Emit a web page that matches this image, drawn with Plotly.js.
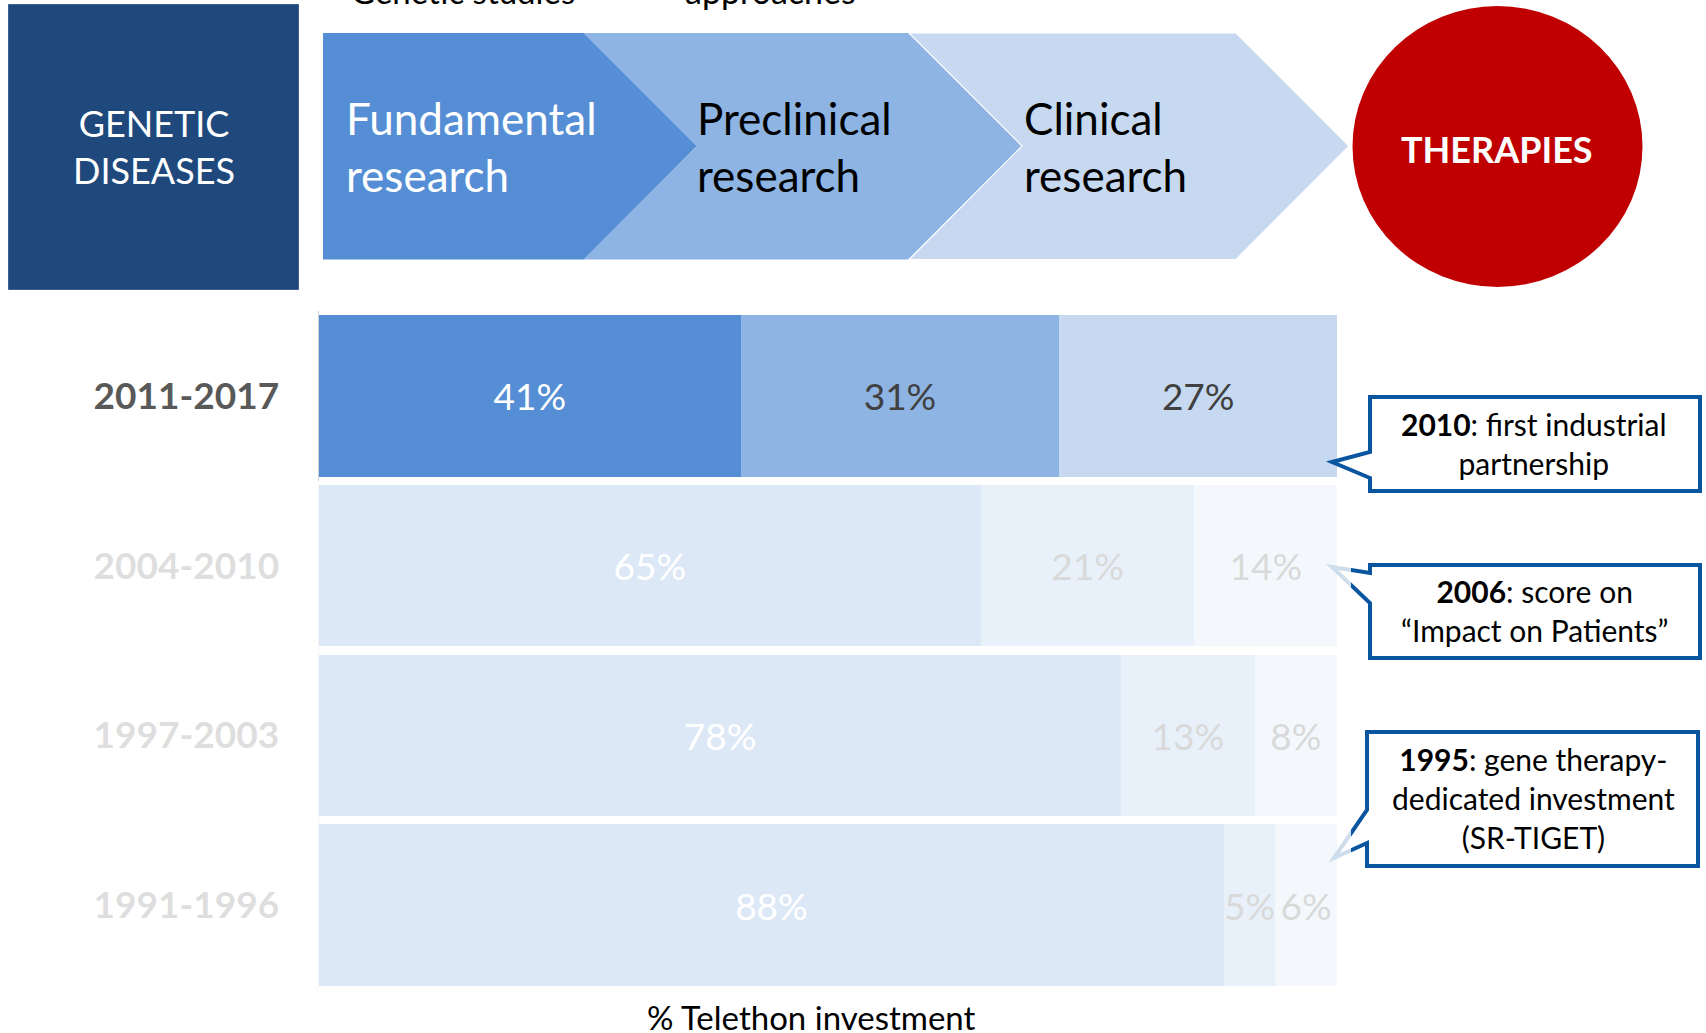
<!DOCTYPE html>
<html>
<head>
<meta charset="utf-8">
<script src="https://cdn.plot.ly/plotly-3.0.1.min.js"></script>
<style>
  html, body { margin: 0; padding: 0; background: #ffffff; }
  #chart { width: 1706px; height: 1033px; }
</style>
</head>
<body>
<div id="chart"></div>
<script>
// ---------- data ----------
const periods = ['2011-2017', '2004-2010', '1997-2003', '1991-1996'];
const fundamental = [41, 65, 78, 88];
const preclinical = [31, 21, 13, 5];
const clinical = [27, 14, 8, 6];
const stageNames = ['Fundamental research', 'Preclinical research', 'Clinical research'];
const stageColors = ['#558ED5', '#8EB4E3', '#C6D9F1'];
const labelColors = ['#FFFFFF', '#404040', '#404040'];
const xTitle = '% Telethon investment';
const calloutYears = ['2010', '2006', '1995'];
const calloutTexts = [
  ': first industrial<br>partnership',
  ': score on<br>\u201CImpact on Patients\u201D',
  ': gene therapy-<br>dedicated investment<br>(SR-TIGET)'
];
const headerTexts = ['Genetic studies', 'approaches'];

// ---------- layout helpers (pixel -> paper) ----------
const W = 1706, H = 1033;
const M = { l: 319, r: 369, t: 311, b: 43 };
const PW = W - M.l - M.r, PH = H - M.t - M.b;
const px = x => (x - M.l) / PW;
const py = y => (M.t + PH - y) / PH;
const pt = (x, y) => px(x).toFixed(5) + ',' + py(y).toFixed(5);
const path = pts => 'M ' + pts.map(p => pt(p[0], p[1])).join(' L ') + ' Z';

const FONT = 'Lato';

// ---------- traces ----------
const series = [fundamental, preclinical, clinical];
const traces = series.map((vals, i) => ({
  type: 'bar',
  orientation: 'h',
  y: periods,
  x: vals,
  name: stageNames[i],
  marker: { color: stageColors[i], line: { width: 0 } },
  text: vals.map(v => v + '%'),
  textposition: 'inside',
  insidetextanchor: 'middle',
  textangle: 0,
  constraintext: 'none',
  textfont: { family: FONT, size: 37, color: labelColors[i] },
  hoverinfo: 'skip'
}));

// ---------- decorations ----------
const calloutBorder = '#0A55A0';
const shapes = [
  // GENETIC DISEASES box
  { type: 'rect', xref: 'paper', yref: 'paper', x0: px(8.5), x1: px(298.5), y0: py(289.5), y1: py(4.5),
    fillcolor: '#1F497D', line: { color: '#3A6191', width: 1 } },
  // chevron 1
  { type: 'path', xref: 'paper', yref: 'paper',
    path: path([[323, 33], [584, 33], [697, 146], [584, 259.5], [323, 259.5]]),
    fillcolor: stageColors[0], line: { width: 0 } },
  // chevron 2
  { type: 'path', xref: 'paper', yref: 'paper',
    path: path([[584, 33], [909, 33], [1022, 146], [909, 259.5], [584, 259.5], [697, 146]]),
    fillcolor: stageColors[1], line: { width: 0 } },
  // chevron 3
  { type: 'path', xref: 'paper', yref: 'paper',
    path: path([[909, 33], [1236, 33], [1349, 146], [1236, 259.5], [909, 259.5], [1022, 146]]),
    fillcolor: stageColors[2], line: { color: '#FFFFFF', width: 1.2 } },
  // THERAPIES circle
  { type: 'circle', xref: 'paper', yref: 'paper', x0: px(1352.5), x1: px(1642.5), y0: py(287), y1: py(6),
    fillcolor: '#C00000', line: { width: 0 } },
  // callout 1
  { type: 'path', xref: 'paper', yref: 'paper',
    path: path([[1370, 397], [1700, 397], [1700, 491], [1370, 491], [1370, 478], [1332, 462], [1370, 452]]),
    fillcolor: '#FFFFFF', line: { color: calloutBorder, width: 4 } },
  // callout 2
  { type: 'path', xref: 'paper', yref: 'paper',
    path: path([[1370, 565], [1700, 565], [1700, 658], [1370, 658], [1370, 603], [1332, 567], [1370, 573]]),
    fillcolor: '#FFFFFF', line: { color: calloutBorder, width: 4 } },
  // callout 3
  { type: 'path', xref: 'paper', yref: 'paper',
    path: path([[1367, 732], [1698, 732], [1698, 866], [1367, 866], [1367, 843], [1334, 858], [1367, 810]]),
    fillcolor: '#FFFFFF', line: { color: calloutBorder, width: 4 } },
  // fading veil over the older periods
  { type: 'rect', xref: 'paper', yref: 'paper', x0: px(0), x1: px(1351), y0: py(998), y1: 0.75,
    fillcolor: '#FFFFFF', opacity: 0.8, line: { width: 0 } }
];

const ann = (x, y, text, opts) => Object.assign({
  xref: 'paper', yref: 'paper', x: px(x), y: py(y), text: text, showarrow: false,
  xanchor: 'center', yanchor: 'middle', align: 'center',
  font: { family: FONT, size: 30, color: '#000000' }
}, opts || {});

const annotations = [
  ann(463, -9, headerTexts[0], { font: { family: FONT, size: 33, color: '#000000' } }),
  ann(770, -9, headerTexts[1], { font: { family: FONT, size: 34, color: '#000000' } }),
  ann(153.5, 147, 'GENETIC<br>DISEASES', { font: { family: FONT, size: 36, color: '#FFFFFF' } }),
  ann(344, 147, 'Fundamental<br>research', { xanchor: 'left', align: 'left', font: { family: FONT, size: 44, color: '#FFFFFF' } }),
  ann(695, 147, 'Preclinical<br>research', { xanchor: 'left', align: 'left', font: { family: FONT, size: 44, color: '#000000' } }),
  ann(1022, 147, 'Clinical<br>research', { xanchor: 'left', align: 'left', font: { family: FONT, size: 44, color: '#000000' } }),
  ann(1497, 149, 'THERAPIES', { font: { family: FONT, size: 36, color: '#FFFFFF', weight: 'bold' } }),
  ann(1534, 443.5, '<b>' + calloutYears[0] + '</b>' + calloutTexts[0]),
  ann(1534, 610.5, '<b>' + calloutYears[1] + '</b>' + calloutTexts[1]),
  ann(1533, 797.5, '<b>' + calloutYears[2] + '</b>' + calloutTexts[2]),
  ann(811, 1017, xTitle, { font: { family: FONT, size: 33, color: '#000000' } })
];

const layout = {
  width: W, height: H,
  margin: M,
  paper_bgcolor: '#FFFFFF', plot_bgcolor: '#FFFFFF',
  barmode: 'stack', barnorm: 'percent', bargap: 0.05,
  showlegend: false,
  font: { family: FONT },
  xaxis: { range: [0, 100], visible: false, fixedrange: true },
  yaxis: {
    type: 'category', categoryorder: 'array', categoryarray: periods, autorange: 'reversed',
    showline: true, linecolor: '#D0D0D0', linewidth: 1.5, ticks: '', showgrid: false, zeroline: false,
    tickfont: { family: FONT, size: 37, color: '#595959', weight: 'bold' },
    ticklabelstandoff: 31, fixedrange: true
  },
  shapes: shapes,
  annotations: annotations
};

Plotly.newPlot('chart', traces, layout, { displayModeBar: false, staticPlot: true });
</script>
</body>
</html>
